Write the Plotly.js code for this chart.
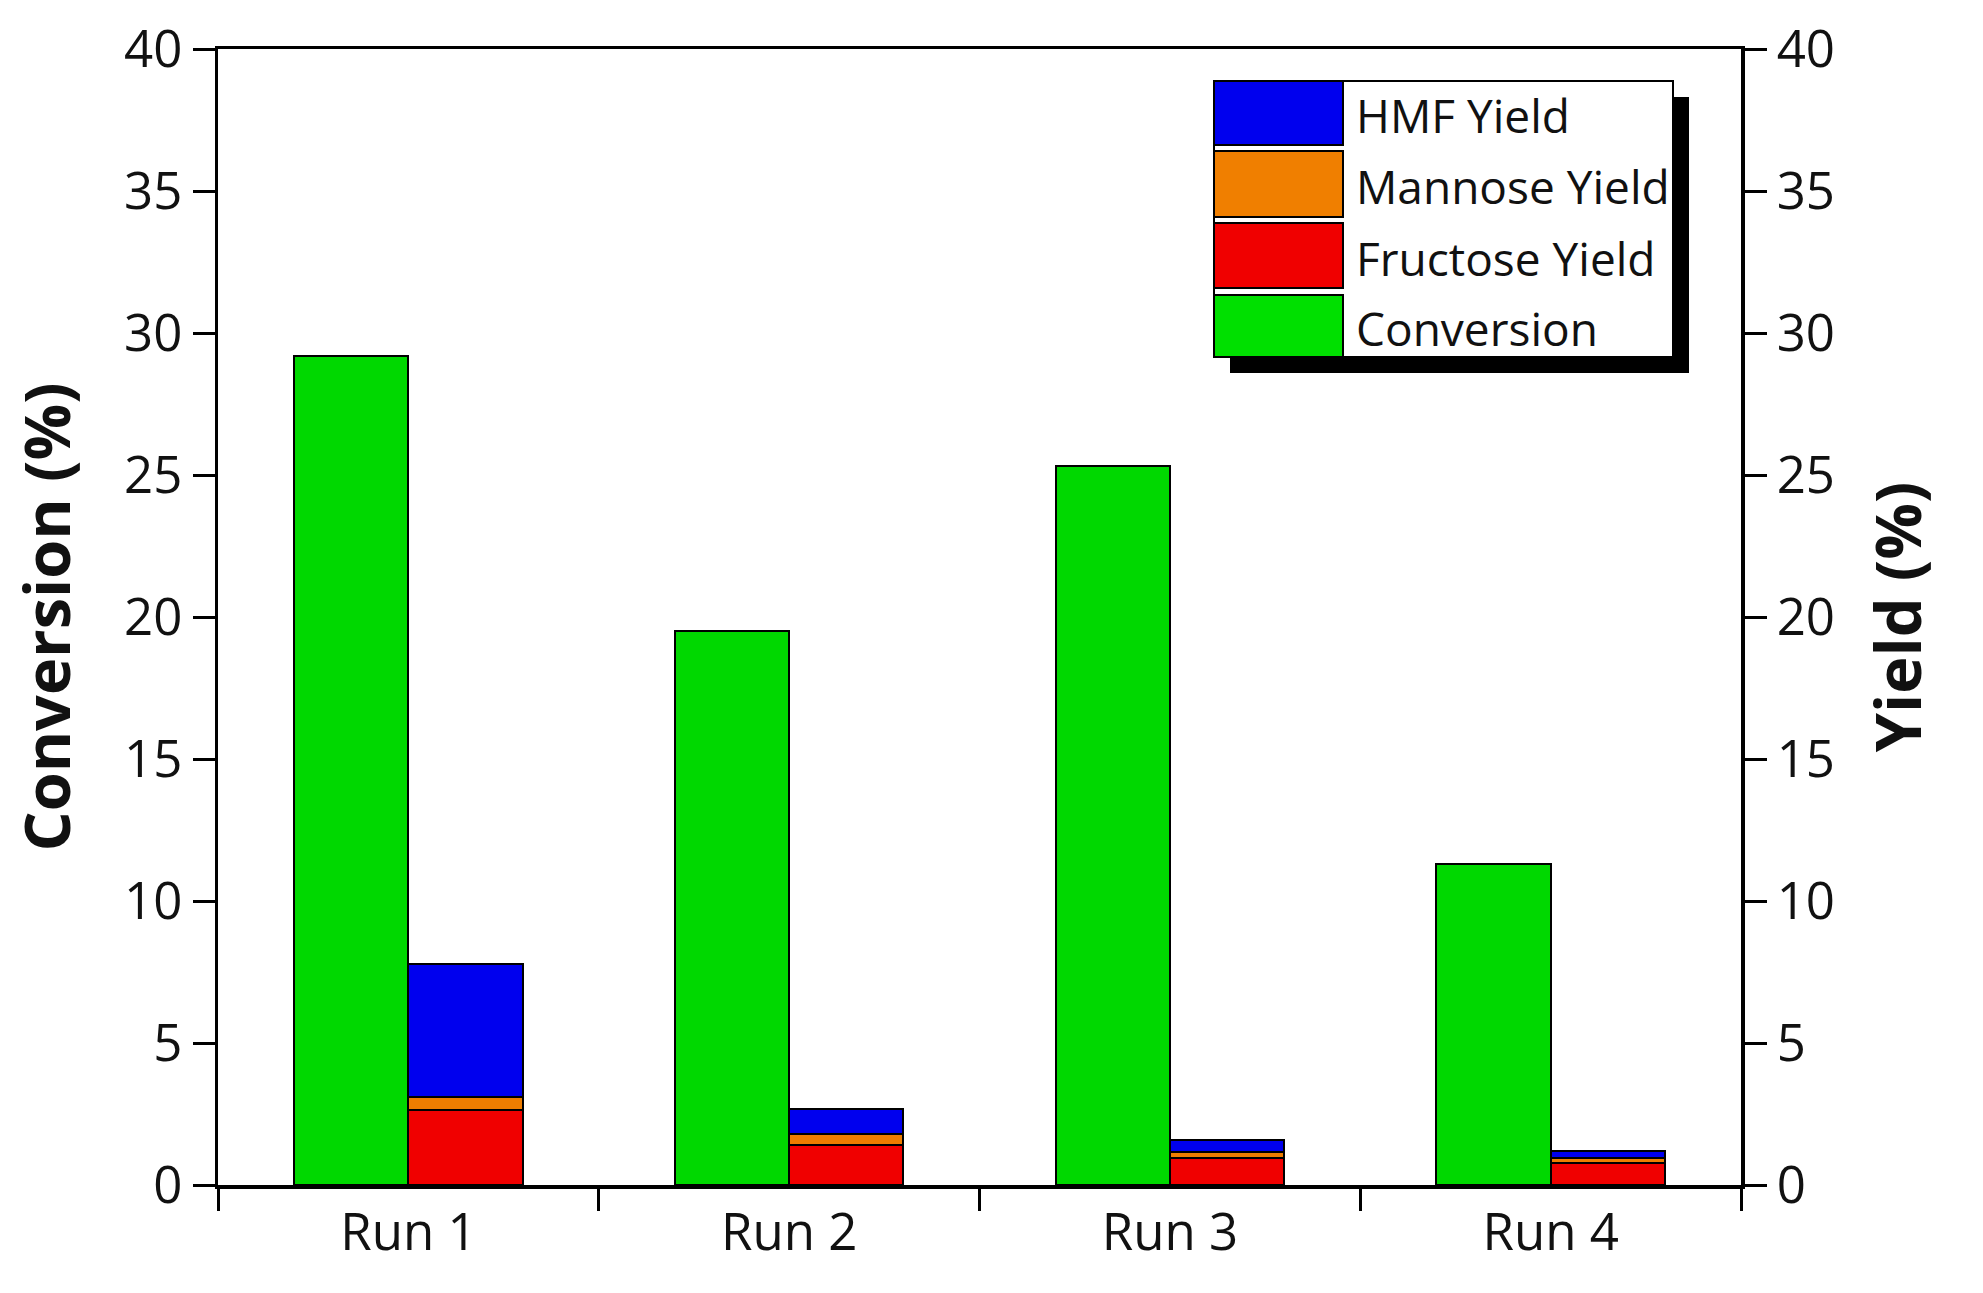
<!DOCTYPE html>
<html>
<head>
<meta charset="utf-8">
<script src="https://cdn.plot.ly/plotly-3.0.1.min.js"></script>
<style>
  html, body { margin: 0; padding: 0; background: #fff; }
  #graph { width: 1983px; height: 1293px; }
</style>
</head>
<body>
<div id="graph"></div>
<script>
const runs = ['Run 1', 'Run 2', 'Run 3', 'Run 4'];
const conversion = [29.2, 19.5, 25.3, 11.3];
const fructoseYield = [2.64, 1.41, 0.96, 0.76];
const mannoseYield = [0.46, 0.38, 0.19, 0.18];
const hmfYield = [4.68, 0.88, 0.43, 0.26];

const legendNames = ['HMF Yield', 'Mannose Yield', 'Fructose Yield', 'Conversion'];
const legendColors = ['#0000ee', '#f07f00', '#f00000', '#00e000'];

const W = 1983, H = 1293;
const plotL = 218, plotR = 1741, plotT = 49, plotB = 1185;
const FONT = '"Open Sans", "DejaVu Sans", sans-serif';

// pixel -> paper fraction for the hand-made legend
function px(x) { return (x - plotL) / (plotR - plotL); }
function py(y) { return (plotB - y) / (plotB - plotT); }

const outline = { color: '#000', width: 2 };

const traces = [
  {
    type: 'bar', name: 'Conversion', x: runs, y: conversion, yaxis: 'y',
    width: 0.3, offset: -0.3,
    marker: { color: '#00d800', line: outline },
    showlegend: false, hoverinfo: 'x+y'
  },
  {
    type: 'bar', name: 'Fructose Yield', x: runs, y: fructoseYield, yaxis: 'y2',
    width: 0.3, offset: 0,
    marker: { color: '#f00000', line: outline },
    showlegend: false
  },
  {
    type: 'bar', name: 'Mannose Yield', x: runs, y: mannoseYield, yaxis: 'y2',
    width: 0.3, offset: 0,
    marker: { color: '#ee7d00', line: outline },
    showlegend: false
  },
  {
    type: 'bar', name: 'HMF Yield', x: runs, y: hmfYield, yaxis: 'y2',
    width: 0.3, offset: 0,
    marker: { color: '#0000ee', line: outline },
    showlegend: false
  }
];

// legend drawn as shapes so the swatches can be as big as in the original
const shapes = [];
const annotations = [];
const boxL = 1214, boxR = 1673, boxT = 81, boxB = 357, shadow = 16;
const swR = 1343;
const rowTops = [81, 151, 223, 295];
const rowBots = [145, 217, 288, 357];

shapes.push({
  type: 'rect', xref: 'paper', yref: 'paper', layer: 'above',
  x0: px(boxL + shadow), x1: px(boxR + shadow), y0: py(boxB + shadow), y1: py(boxT + shadow),
  fillcolor: '#000', line: { width: 0 }
});
shapes.push({
  type: 'rect', xref: 'paper', yref: 'paper', layer: 'above',
  x0: px(boxL), x1: px(boxR), y0: py(boxB), y1: py(boxT),
  fillcolor: '#fff', line: { color: '#000', width: 2 }
});
for (let i = 0; i < legendNames.length; i++) {
  shapes.push({
    type: 'rect', xref: 'paper', yref: 'paper', layer: 'above',
    x0: px(boxL), x1: px(swR), y0: py(rowBots[i]), y1: py(rowTops[i]),
    fillcolor: legendColors[i], line: { color: '#000', width: 2 }
  });
  annotations.push({
    xref: 'paper', yref: 'paper', x: px(1354), y: py((rowTops[i] + rowBots[i]) / 2 + 2),
    xanchor: 'left', yanchor: 'middle', showarrow: false,
    text: legendNames[i], font: { family: FONT, size: 46, color: '#111' }
  });
}

const tickFont = { family: FONT, size: 51, color: '#111' };

const layout = {
  width: W, height: H,
  margin: { l: plotL, r: W - plotR, t: plotT, b: H - plotB, pad: 0 },
  paper_bgcolor: '#fff', plot_bgcolor: '#fff',
  barmode: 'stack',
  showlegend: false,
  xaxis: {
    type: 'category',
    range: [-0.5, 3.5],
    tickson: 'boundaries',
    ticks: 'outside', ticklen: 22, tickwidth: 3, tickcolor: '#000',
    showline: true, linecolor: '#000', linewidth: 3.5, mirror: true,
    showgrid: false, zeroline: false,
    tickfont: tickFont
  },
  yaxis: {
    range: [0, 40], dtick: 5,
    ticks: 'outside', ticklen: 22, tickwidth: 3, tickcolor: '#000',
    showline: true, linecolor: '#000', linewidth: 3.5,
    showgrid: false, zeroline: false,
    tickfont: tickFont,
    title: { text: 'Conversion (%)', standoff: 34,
             font: { family: FONT, size: 63, color: '#111', weight: 'bold' } }
  },
  yaxis2: {
    overlaying: 'y', side: 'right',
    range: [0, 40], dtick: 5,
    ticks: 'outside', ticklen: 22, tickwidth: 3, tickcolor: '#000',
    showline: true, linecolor: '#000', linewidth: 3.5,
    showgrid: false, zeroline: false,
    tickfont: tickFont,
    title: { text: 'Yield (%)', standoff: 44,
             font: { family: FONT, size: 63, color: '#111', weight: 'bold' } }
  },
  shapes: shapes,
  annotations: annotations
};

Plotly.newPlot('graph', traces, layout, { displayModeBar: false, staticPlot: true });
</script>
</body>
</html>
